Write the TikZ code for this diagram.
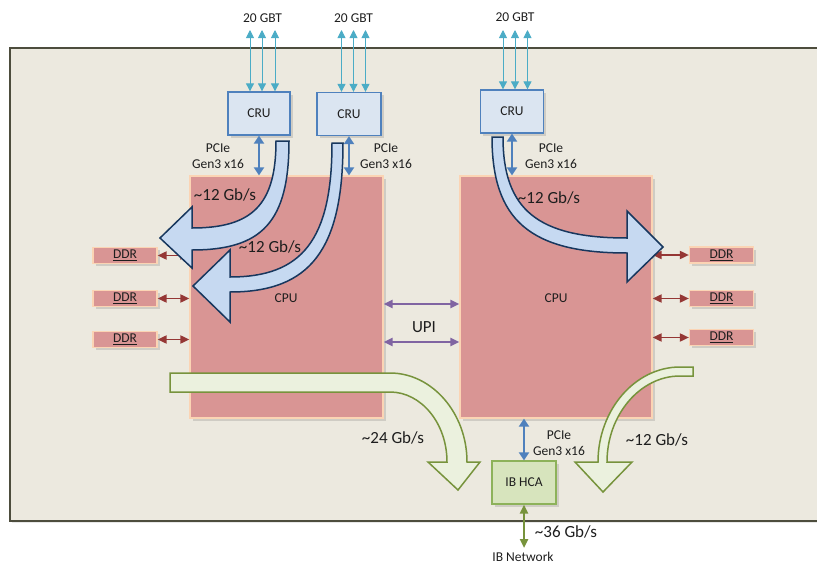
\documentclass[tikz,border=0pt]{standalone}
\usepackage{fontspec}
\setmainfont{Carlito}
\usetikzlibrary{arrows.meta,shadows,calc}
\definecolor{boardfill}{HTML}{ECE9DF}
\definecolor{boardline}{HTML}{4D4D3D}
\definecolor{cpufill}{HTML}{D99594}
\definecolor{cpuline}{HTML}{FBD4B4}
\definecolor{crufill}{HTML}{DBE5F1}
\definecolor{cruline}{HTML}{4F81BD}
\definecolor{gbtcol}{HTML}{4BACC6}
\definecolor{pciecol}{HTML}{4F81BD}
\definecolor{ddrcol}{HTML}{953735}
\definecolor{upicol}{HTML}{8064A2}
\definecolor{flowbluefill}{HTML}{C6D9F1}
\definecolor{flowblueline}{HTML}{17375E}
\definecolor{flowgreenfill}{HTML}{EBF1DE}
\definecolor{flowgreenline}{HTML}{77933C}
\definecolor{hcafill}{HTML}{D7E4BD}
\definecolor{hcaline}{HTML}{8DB25A}
\definecolor{txt}{HTML}{1E1E1E}
\begin{document}
\begin{tikzpicture}[x=1pt,y=-1pt,
  sm/.style={font=\fontsize{13.5}{15.5}\selectfont, text=txt},
  big/.style={font=\fontsize{17}{20}\selectfont, text=txt},
  shad/.style={drop shadow={shadow xshift=2.5pt,shadow yshift=-2.5pt,opacity=0.18,fill=black!70}},
  boardbox/.style={draw=boardline, fill=boardfill, line width=2pt, inner sep=0pt,
     drop shadow={shadow xshift=1.5pt,shadow yshift=-2pt,opacity=0.15,fill=black!60}},
  cpubox/.style={draw=cpuline, fill=cpufill, line width=1.2pt, inner sep=0pt, shad},
  crubox/.style={draw=cruline, fill=crufill, line width=1.3pt, inner sep=0pt, sm, shad},
  ddrbox/.style={draw=cpuline, fill=cpufill, line width=1.2pt, inner sep=0pt, sm,
     minimum width=64pt, minimum height=16pt, shad},
  hcabox/.style={draw=hcaline, fill=hcafill, line width=1.3pt, inner sep=0pt, sm,
     minimum width=64pt, minimum height=43pt, shad},
  gbt/.style={draw=gbtcol, line width=0.9pt, {Triangle[width=8pt,length=8pt]}-{Triangle[width=8pt,length=8pt]}},
  pcie/.style={draw=pciecol, line width=2.8pt, {Triangle[width=10pt,length=8pt]}-{Triangle[width=10pt,length=8pt]}},
  ddrarrow/.style={draw=ddrcol, line width=1.8pt, {Triangle[width=8pt,length=9pt]}-{Triangle[width=8pt,length=9pt]}},
  upiarrow/.style={draw=upicol, line width=2.4pt, {Triangle[width=8pt,length=9pt]}-{Triangle[width=8pt,length=9pt]}},
  ibarrow/.style={draw=flowgreenline, line width=2.4pt, {Triangle[width=8pt,length=9pt]}-{Triangle[width=8pt,length=9pt]}},
  flowblue/.style={draw=flowblueline, fill=flowbluefill, line width=1.5pt, line join=miter},
  flowgreen/.style={draw=flowgreenline, fill=flowgreenfill, line width=1.5pt, line join=miter},
  lab2/.style={sm, align=center, inner sep=0pt}
]
\useasboundingbox (0,0) rectangle (817,565);

% board
\node[boardbox, minimum width=820pt, minimum height=473pt] (board) at (420,284.5) {};

% CPUs
\node[cpubox, minimum width=193pt, minimum height=242pt] (cpuL) at (286.5,297) {};
\node[cpubox, minimum width=192pt, minimum height=242pt] (cpuR) at (556,297) {};

% DDR boxes
\node[ddrbox] (ddrL1) at (125,255.5) {\underline{DDR}};
\node[ddrbox] (ddrL2) at (125,298.5) {\underline{DDR}};
\node[ddrbox] (ddrL3) at (125,339.5) {\underline{DDR}};
\node[ddrbox] (ddrR1) at (721.5,255) {\underline{DDR}};
\node[ddrbox] (ddrR2) at (721.5,298.5) {\underline{DDR}};
\node[ddrbox] (ddrR3) at (721.5,337.5) {\underline{DDR}};

% CRUs
\node[crubox, minimum width=62pt, minimum height=43pt] (cru1) at (259,113.5) {CRU};
\node[crubox, minimum width=64pt, minimum height=43pt] (cru2) at (349,114) {CRU};
\node[crubox, minimum width=63pt, minimum height=43pt] (cru3) at (512,111.5) {CRU};

% IB HCA
\node[hcabox] (hca) at (524,482.5) {IB HCA};

% GBT links
\foreach \n/\x in {1/250,2/262,3/275} {
  \coordinate (ga\n) at (\x,30);
  \draw[gbt] (cru1.north -| ga\n) -- (ga\n);
}
\foreach \n/\x in {1/341.5,2/353.5,3/365.5} {
  \coordinate (gb\n) at (\x,30);
  \draw[gbt] (cru2.north -| gb\n) -- (gb\n);
}
\foreach \n/\x in {1/503,2/515,3/527.5} {
  \coordinate (gc\n) at (\x,30);
  \draw[gbt] (cru3.north -| gc\n) -- (gc\n);
}

% PCIe links
\draw[pcie] (cru1.south) -- (cru1.south |- cpuL.north);
\draw[pcie] (cru2.south) -- (cru2.south |- cpuL.north);
\draw[pcie] (cru3.south) -- (cru3.south |- cpuR.north);
\draw[pcie] (hca.north |- cpuR.south) -- (hca.north);

% DDR links
\foreach \d in {ddrL1,ddrL2,ddrL3} {
  \draw[ddrarrow] (\d.east) -- (\d.east -| cpuL.west);
}
\foreach \d in {ddrR1,ddrR2,ddrR3} {
  \draw[ddrarrow] (\d.west -| cpuR.east) -- (\d.west);
}

% UPI links
\coordinate (upia) at (0,304);
\coordinate (upib) at (0,342);
\draw[upiarrow] (cpuL.east |- upia) -- (cpuR.west |- upia);
\draw[upiarrow] (cpuL.east |- upib) -- (cpuR.west |- upib);

% IB network link
\coordinate (ibend) at (524,548);
\draw[ibarrow] (hca.south) -- (ibend);

% blue curved flow arrows
\path[flowblue] (276,141) -- (289,141) .. controls (289,222) and (262,250) .. (192,250)
  -- (192,268) -- (160,238) -- (192,207) -- (192,228)
  .. controls (252,228) and (276,205) .. (276,141) -- cycle;
\path[flowblue] (332,143) -- (343,143) .. controls (343,250) and (310,292) .. (230,292)
  -- (230,322) -- (193,286) -- (230,250) -- (230,277)
  .. controls (302,277) and (332,240) .. (332,143) -- cycle;
\path[flowblue] (492,137) -- (503,137) .. controls (503,210) and (538,238) .. (627,238)
  -- (627,211) -- (663,247) -- (627,282) -- (627,253)
  .. controls (530,253) and (492,220) .. (492,137) -- cycle;

% green flow arrows
\path[flowgreen] (170,373) -- (390,373) .. controls (432,373) and (467,413) .. (467,462)
  -- (480,462) -- (458,490) -- (428,462) -- (447,462)
  .. controls (447,423) and (421,392) .. (390,392) -- (170,392) -- cycle;
\path[flowgreen] (693,367) -- (680,367) .. controls (635,367) and (598,410) .. (598,462)
  -- (575,462) -- (603,492) -- (632,462) -- (607,462)
  .. controls (607,415) and (640,376) .. (680,376) -- (693,376) -- cycle;

% labels
\node[sm] (gbtlab1) at (262.5,18.5) {20 GBT};
\node[sm] (gbtlab2) at (353.5,18.5) {20 GBT};
\node[sm] (gbtlab3) at (515,17) {20 GBT};
\node[lab2] (pcielab1) at (218,156) {PCIe\\Gen3 x16};
\node[lab2] (pcielab2) at (386,156) {PCIe\\Gen3 x16};
\node[lab2] (pcielab3) at (551,156) {PCIe\\Gen3 x16};
\node[lab2] (pcielab4) at (559,443) {PCIe\\Gen3 x16};
\node[sm] (cpulabL) at (286,298) {CPU};
\node[sm] (cpulabR) at (556,298) {CPU};
\node[big] (upilab) at (424,327) {UPI};
\node[big] (rate1) at (225,195) {\textasciitilde12 Gb/s};
\node[big] (rate2) at (270,247) {\textasciitilde12 Gb/s};
\node[big] (rate3) at (549,198) {\textasciitilde12 Gb/s};
\node[big] (rate4) at (393,438) {\textasciitilde24 Gb/s};
\node[big] (rate5) at (657,440) {\textasciitilde12 Gb/s};
\node[big] (rate6) at (566,532) {\textasciitilde36 Gb/s};
\node[sm, inner sep=1pt] (ibnet) at (523,557) {IB Network};
\end{tikzpicture}
\end{document}
